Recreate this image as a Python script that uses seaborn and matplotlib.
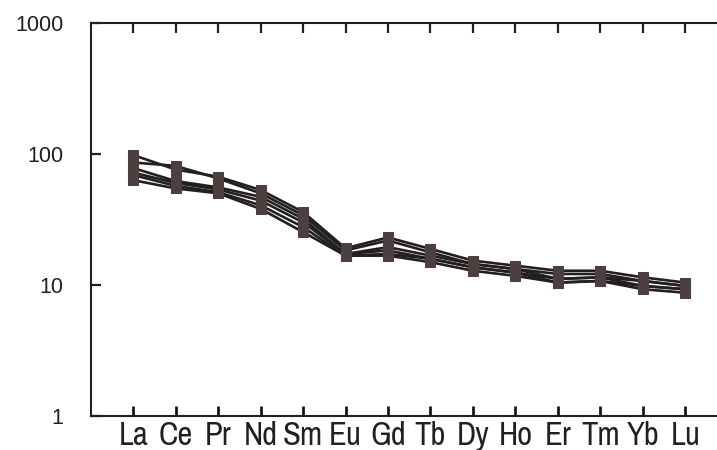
import numpy as np
import pandas as pd
import matplotlib
matplotlib.use("Agg")
import matplotlib.pyplot as plt
import seaborn as sns

elements = ["La", "Ce", "Pr", "Nd", "Sm", "Eu", "Gd", "Tb", "Dy", "Ho", "Er", "Tm", "Yb", "Lu"]
y_ticks = [1, 10, 100, 1000]
y_ticklabels = ["1", "10", "100", "1000"]

s1 = [98, 76, 67, 53, 36, 19.0, 23.0, 18.8, 15.3, 14.0, 12.8, 12.8, 11.4, 10.4]
s2 = [86, 81, 65, 50, 34, 18.3, 21.8, 17.7, 14.4, 13.2, 12.1, 12.1, 10.7, 9.8]
s3 = [78, 62, 55.5, 47, 32, 17.2, 19.4, 16.7, 14.4, 13.2, 11.1, 11.4, 10.7, 9.8]
s4 = [72, 60, 53.5, 44, 30, 17.2, 18.3, 15.8, 13.6, 12.4, 11.1, 11.4, 9.8, 9.25]
s5 = [69, 57, 51, 40.5, 27.6, 16.7, 17.2, 15.8, 13.6, 12.4, 10.4, 10.7, 9.8, 9.25]
s6 = [63, 54.5, 50, 38, 25.3, 16.7, 16.7, 14.9, 12.8, 11.7, 10.4, 10.7, 9.25, 8.7]
samples = {"s1": s1, "s2": s2, "s3": s3, "s4": s4, "s5": s5, "s6": s6}

rows = []
for name, vals in samples.items():
    for i, v in enumerate(vals):
        rows.append({"sample": name, "idx": i, "value": v})
df = pd.DataFrame(rows)

sns.set_style("ticks", {"axes.axisbelow": False})
plt.rcParams["font.family"] = ["Liberation Sans", "DejaVu Sans"]

fig = plt.figure(figsize=(7.17, 4.5), dpi=100)
ax = fig.add_axes([90.7 / 717, 1 - 415.7 / 450, 637 / 717, 392.7 / 450])

sns.lineplot(
    data=df, x="idx", y="value", hue="sample",
    palette=["#231f20"] * len(samples), legend=False,
    marker="s", markersize=6.5, markerfacecolor="#4b3f40",
    markeredgecolor="#4b3f40", linewidth=1.9, ax=ax,
)

ax.set_yscale("log")
ax.set_ylim(1, 1000)
ax.set_xlim(-1, 14)
ax.set_yticks(y_ticks)
ax.set_yticklabels(y_ticklabels, fontsize=15.5)
ax.yaxis.set_minor_locator(matplotlib.ticker.NullLocator())
ax.set_xticks(range(len(elements)))
ax.set_xticklabels(elements, fontsize=23.5, family=["Archivo Narrow", "Liberation Sans"])
ax.set_xlabel("")
ax.set_ylabel("")

for sp in ax.spines.values():
    sp.set_linewidth(1.5)
    sp.set_color("#231f20")
ax.xaxis.set_ticks_position("both")
ax.tick_params(axis="x", which="major", direction="in", length=7.5, width=1.6,
               top=True, bottom=True, pad=4, color="#231f20", labelcolor="#231f20")
ax.tick_params(axis="y", which="major", direction="in", length=7.5, width=1.6,
               left=True, right=False, pad=19.5, color="#231f20", labelcolor="#231f20")
# bottom ticks: explicit edge colour and above the spine, as in the red test
for t in ax.xaxis.get_major_ticks():
    t.tick1line.set_markeredgecolor("#1a1718")
    t.tick1line.set_markeredgewidth(2.0)
    t.tick1line.set_zorder(10)

fig.savefig("out.png", dpi=100)
